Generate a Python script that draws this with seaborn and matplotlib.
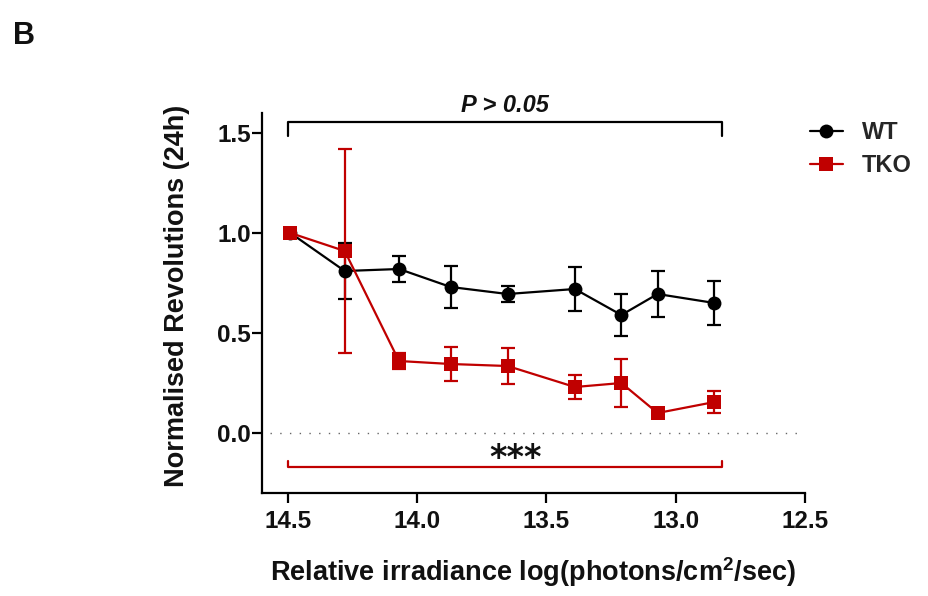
import matplotlib
matplotlib.use("Agg")
import matplotlib.pyplot as plt
import seaborn as sns
import pandas as pd
import numpy as np
from matplotlib.lines import Line2D

# ---- data ----
irradiance = [14.49, 14.28, 14.07, 13.87, 13.65, 13.39, 13.21, 13.07, 12.85]
wt_mean = [1.00, 0.81, 0.82, 0.73, 0.695, 0.72, 0.59, 0.695, 0.65]
wt_err = [0.00, 0.14, 0.065, 0.105, 0.04, 0.11, 0.105, 0.115, 0.11]
tko_mean = [1.00, 0.91, 0.36, 0.345, 0.335, 0.23, 0.25, 0.10, 0.155]
tko_err = [0.00, 0.51, 0.04, 0.085, 0.09, 0.06, 0.12, 0.02, 0.055]
groups = ["WT", "TKO"]
x_ticks = [14.5, 14.0, 13.5, 13.0, 12.5]
y_ticks = [0.0, 0.5, 1.0, 1.5]

RED = "#C00000"
BLACK = "#000000"
TXT = "#111111"

sns.set_theme(style="ticks")
plt.rcParams["font.family"] = ["Liberation Sans", "DejaVu Sans"]
plt.rcParams["font.weight"] = "bold"
plt.rcParams["mathtext.fontset"] = "custom"
plt.rcParams["mathtext.bf"] = "Liberation Sans:bold"
plt.rcParams["mathtext.rm"] = "Liberation Sans:bold"

df = pd.DataFrame({
    "x": irradiance * 2,
    "y": wt_mean + tko_mean,
    "group": ["WT"] * len(irradiance) + ["TKO"] * len(irradiance),
})

fig = plt.figure(figsize=(9.29, 5.96), dpi=100)
ax = fig.add_axes([0.282, 0.1728, 0.5845, 0.6376])

# error bars
ax.errorbar(irradiance, wt_mean, yerr=wt_err, fmt="none", ecolor=BLACK,
            elinewidth=1.6, capsize=5, capthick=1.6, zorder=2)
ax.errorbar(irradiance, tko_mean, yerr=tko_err, fmt="none", ecolor=RED,
            elinewidth=1.6, capsize=5, capthick=1.6, zorder=2)

sns.lineplot(data=df, x="x", y="y", hue="group", style="group",
             palette={"WT": BLACK, "TKO": RED},
             markers={"WT": "o", "TKO": "s"}, dashes=False,
             markersize=10, markeredgewidth=0, linewidth=1.6,
             sort=False, ax=ax, zorder=3, legend=False)

# zero line
ax.axhline(0, color="#666666", lw=1.0, ls=(0, (1, 6)), zorder=1,
           xmin=0.015, xmax=0.985)

ax.set_xlim(14.6, 12.5)
ax.set_ylim(-0.3, 1.6)
ax.set_xticks(x_ticks)
ax.set_xticklabels([f"{t:.1f}" for t in x_ticks])
ax.set_yticks(y_ticks)
ax.set_yticklabels([f"{t:.1f}" for t in y_ticks])
ax.tick_params(axis="both", labelsize=17.5, width=1.6, length=7, color=BLACK,
               labelcolor=TXT)
ax.tick_params(axis="x", pad=5)
ax.tick_params(axis="y", pad=1)
for lab in ax.get_xticklabels() + ax.get_yticklabels():
    lab.set_fontweight("bold")
for s in ["left", "bottom"]:
    ax.spines[s].set_linewidth(1.6)
    ax.spines[s].set_color(BLACK)
sns.despine(ax=ax)

ax.set_xlabel("Relative irradiance log(photons/cm$^{2}$/sec)",
              fontsize=19.5, fontweight="bold", labelpad=16, color=TXT)
ax.set_ylabel("Normalised Revolutions (24h)", fontsize=19.5,
              fontweight="bold", color=TXT)
ax.yaxis.set_label_coords(-0.133, 0.52)

# significance brackets
x0, x1 = 14.5, 12.82
ax.plot([x0, x0, x1, x1], [1.485, 1.555, 1.555, 1.485], color=BLACK,
        lw=1.6, clip_on=False)
ax.text((x0 + x1) / 2, 1.64, "P > 0.05", ha="center", va="center",
        fontsize=17, fontweight="bold", style="italic", color=TXT)
ax.plot([x0, x0, x1, x1], [-0.14, -0.172, -0.172, -0.14], color=RED,
        lw=1.6, clip_on=False)
ax.text((x0 + x1) / 2 - 0.04, -0.125, "***", ha="center", va="center",
        fontsize=24, fontweight="bold", color=TXT,
        family=["DejaVu Sans"])

# legend
handles = [
    Line2D([], [], color=BLACK, marker="o", markersize=10, lw=1.6,
           markeredgewidth=0),
    Line2D([], [], color=RED, marker="s", markersize=10, lw=1.6,
           markeredgewidth=0),
]
fig.legend(handles, groups, loc="upper left", bbox_to_anchor=(0.849, 0.833),
           frameon=False, handlelength=1.4, handletextpad=0.8,
           labelspacing=0.45, prop={"weight": "bold", "size": 17})

fig.text(0.014, 0.965, "B", fontsize=22, fontweight="bold", va="top",
         ha="left", color=TXT)

fig.savefig("out.png", dpi=100)
